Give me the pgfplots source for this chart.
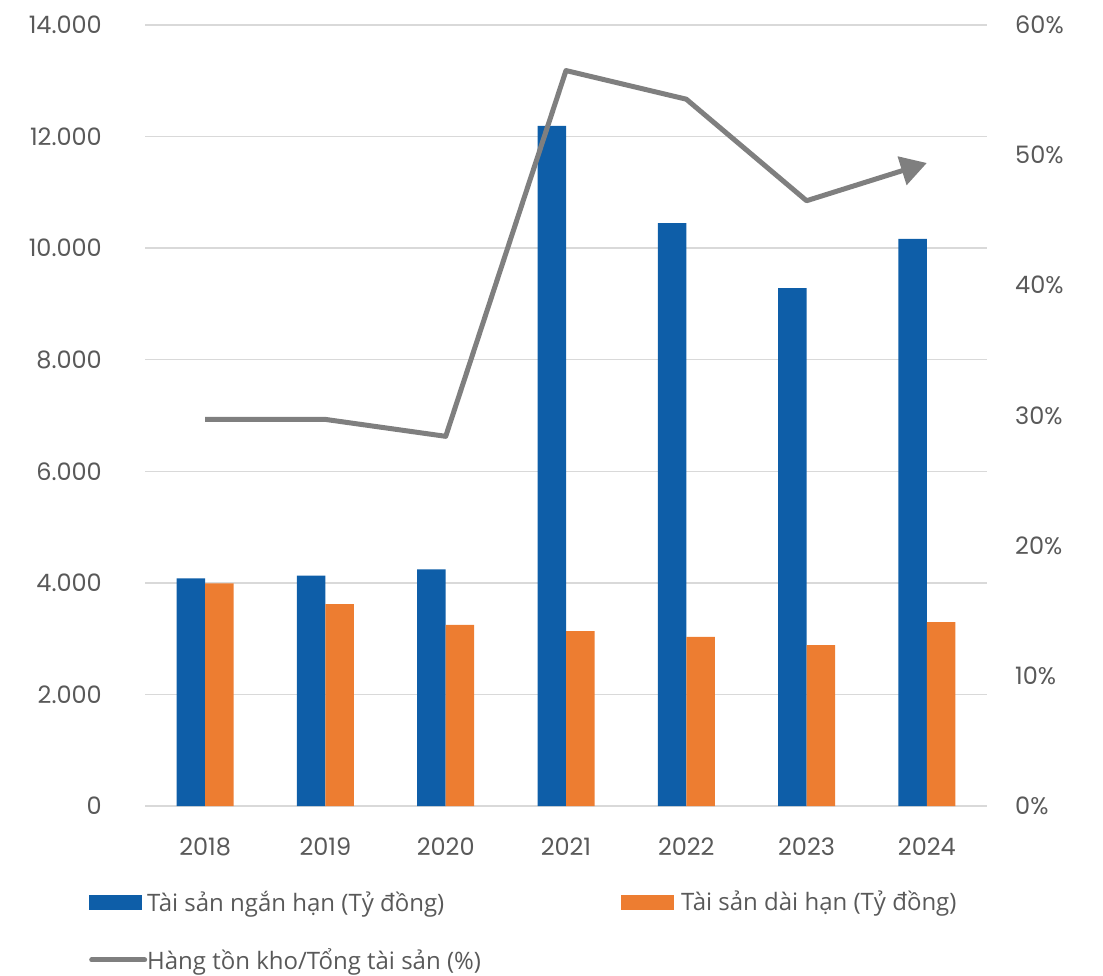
\documentclass[border=0pt]{standalone}
\usepackage{fontspec}
\setmainfont{Poppins}
\newfontfamily\legfont{Open Sans}
\usepackage{pgfplots}
\pgfplotsset{compat=1.18}
\usetikzlibrary{arrows.meta}
\definecolor{barblue}{HTML}{0E5EA8}
\definecolor{barorange}{HTML}{ED7D31}
\definecolor{linegray}{HTML}{7F7F7F}
\definecolor{gridgray}{HTML}{D9D9D9}
\definecolor{txtgray}{HTML}{595959}
\begin{document}
\begin{tikzpicture}[x=1pt,y=1pt]
\useasboundingbox (0,-976) rectangle (1103,0);
\begin{axis}[at={(145pt,-806pt)}, anchor=south west, scale only axis,
  width=842pt, height=781pt,
  xmin=-0.5, xmax=6.5, ymin=0, ymax=14000,
  scaled y ticks=false,
  axis line style={draw=none}, major tick length=0pt,
  xtick={0,1,2,3,4,5,6},
  xticklabels={2018,2019,2020,2021,2022,2023,2024},
  ytick={0,2000,4000,6000,8000,10000,12000,14000},
  yticklabels={0,2.000,4.000,6.000,8.000,10.000,12.000,14.000},
  ymajorgrids, grid style={gridgray, line width=1.5pt},
  ticklabel style={font=\fontsize{24}{24}\selectfont, text=txtgray, inner sep=0pt},
  yticklabel style={anchor=east, xshift=-43pt},
  xticklabel style={anchor=base, yshift=-49pt},
  ybar=0pt, bar width=28.5pt,
]
\addplot[fill=barblue, draw=none] coordinates {(0,4080) (1,4130) (2,4240) (3,12190) (4,10450) (5,9285) (6,10165)};
\addplot[fill=barorange, draw=none] coordinates {(0,3990) (1,3620) (2,3245) (3,3137) (4,3030) (5,2886) (6,3298)};
\end{axis}
\begin{axis}[at={(145pt,-806pt)}, anchor=south west, scale only axis,
  width=842pt, height=781pt,
  xmin=-0.5, xmax=6.5, ymin=0, ymax=60,
  axis y line*=right, axis x line=none,
  axis line style={draw=none}, major tick length=0pt,
  xtick=\empty,
  ytick={0,10,20,30,40,50,60},
  yticklabels={0\%,10\%,20\%,30\%,40\%,50\%,60\%},
  ticklabel style={font=\fontsize{24}{24}\selectfont, text=txtgray, inner sep=0pt},
  yticklabel style={anchor=west, xshift=28pt},
  legend columns=2,
  legend cell align=left,
  legend style={draw=none, fill=none, anchor=north west,
    at={(axis description cs:-0.0701,-0.106)},
    font=\legfont\fontsize{24}{24}\selectfont, text=txtgray,
    /tikz/every even column/.append style={column sep=140pt},
    /tikz/row sep=36pt,
    nodes={inner sep=0pt, inner xsep=0pt}},
]
\addlegendimage{legend image code/.code={\fill[barblue] (0pt,-7pt) rectangle (52pt,7pt);}}
\addlegendentry{Tài sản ngắn hạn (Tỷ đồng)}
\addlegendimage{legend image code/.code={\fill[barorange] (0pt,-7pt) rectangle (52pt,7pt); \path[draw=none,fill=none] (60pt,0pt);}}
\addlegendentry{Tài sản dài hạn (Tỷ đồng)}
\addplot[linegray, line width=5pt, line join=round, -{Triangle[length=26pt,width=29pt]}, mark=none,
  legend image code/.code={\draw[-, linegray, line width=5pt, line cap=round] (2pt,0pt) -- (55pt,0pt);}]
  coordinates {(0,29.7) (1,29.7) (2,28.4) (3,56.5) (4,54.3) (5,46.5) (6,49.4)};
\addlegendentry{Hàng tồn kho/Tổng tài sản (\%)}
\end{axis}
\end{tikzpicture}
\end{document}
